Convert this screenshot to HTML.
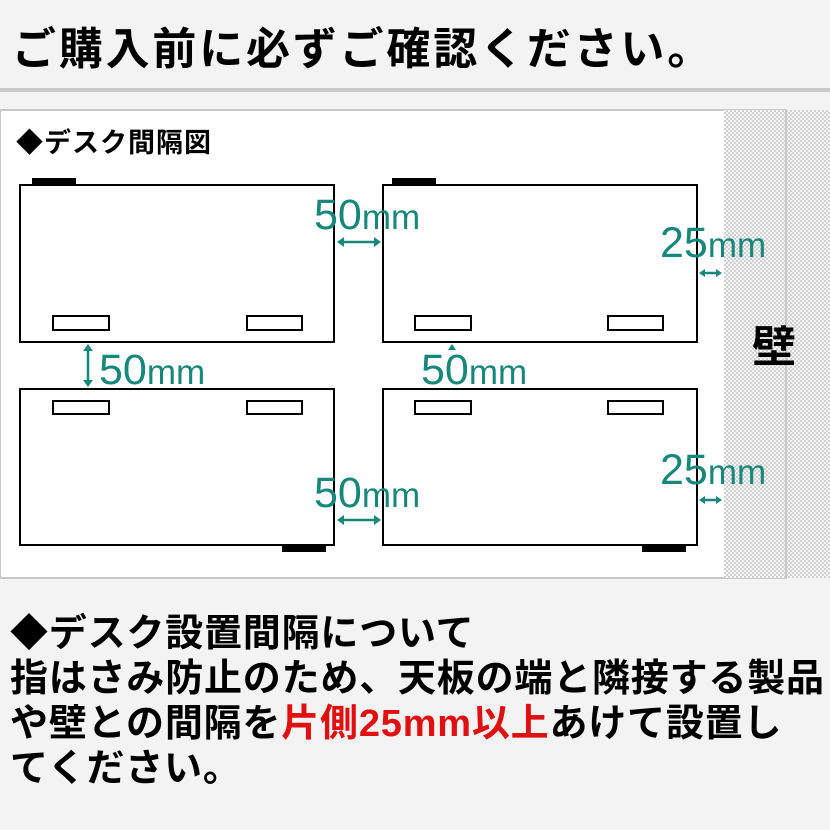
<!DOCTYPE html>
<html><head><meta charset="utf-8"><style>
html,body{margin:0;padding:0;background:#f3f3f3;}
body{width:830px;height:830px;overflow:hidden;position:relative;font-family:"Liberation Sans","Noto Sans CJK JP",sans-serif;}
.t{position:absolute;font-weight:bold;color:#000;white-space:nowrap;}
</style></head><body>
<div class="t" style="left:12px;top:22px;font-size:44px;line-height:56px;letter-spacing:2.8px;">ご購入前に必ずご確認ください。</div>
<div style="position:absolute;left:0;top:88px;width:830px;height:4px;background:#c8c8c8"></div>
<svg style="position:absolute;left:0;top:0" width="830" height="830">
<defs><pattern id="h" width="4" height="4" patternUnits="userSpaceOnUse"><rect width="4" height="4" fill="#f6f6f6"/><rect width="2" height="2" fill="#d0d0d0"/><rect x="2" y="2" width="2" height="2" fill="#d0d0d0"/></pattern></defs>
<rect x="0" y="110" width="786" height="468" fill="#fff" stroke="#c8c8c8" stroke-width="2"/>
<rect x="724" y="110" width="106" height="468" fill="url(#h)"/>
<line x1="786" y1="110" x2="786" y2="578" stroke="#c8c8c8" stroke-width="2"/>
<g fill="none" stroke="#000" stroke-width="2">
<rect x="20" y="185" width="314" height="157"/>
<rect x="383" y="185" width="314" height="157"/>
<rect x="20" y="389" width="314" height="156"/>
<rect x="383" y="389" width="314" height="156"/>
<rect x="53" y="316" width="56" height="14"/><rect x="247" y="316" width="55" height="14"/>
<rect x="415" y="316" width="56" height="14"/><rect x="608" y="316" width="55" height="14"/>
<rect x="53" y="401" width="56" height="13"/><rect x="247" y="401" width="55" height="13"/>
<rect x="415" y="401" width="56" height="13"/><rect x="608" y="401" width="55" height="13"/>
</g>
<g fill="#000">
<rect x="32" y="178" width="44" height="7"/><rect x="392" y="178" width="44" height="7"/>
<rect x="282" y="545" width="44" height="7"/><rect x="642" y="545" width="44" height="7"/>
</g>
<g stroke="#17877a" stroke-width="2.5" fill="#17877a">
<line x1="340" y1="242" x2="378" y2="242"/><path d="M337 242l7-5v10z M381 242l-7-5v10z" stroke="none"/>
<line x1="340" y1="520" x2="378" y2="520"/><path d="M337 520l7-5v10z M381 520l-7-5v10z" stroke="none"/>
<line x1="701" y1="273" x2="720" y2="273"/><path d="M699 273l6-4v8z M722 273l-6-4v8z" stroke="none"/>
<line x1="701" y1="500" x2="720" y2="500"/><path d="M699 500l6-4v8z M722 500l-6-4v8z" stroke="none"/>
<line x1="88" y1="347" x2="88" y2="384"/><path d="M88 344l-5 7h10z M88 387l-5-7h10z" stroke="none"/>
<path d="M452 344l-4 6h8z" stroke="none"/>
</g>
<g font-family="Liberation Sans, sans-serif" fill="#17877a">
<text x="314" y="229" font-size="43">50<tspan font-size="35">mm</tspan></text>
<text x="660" y="257" font-size="43">25<tspan font-size="35">mm</tspan></text>
<text x="99" y="384" font-size="43">50<tspan font-size="35">mm</tspan></text>
<text x="421" y="384" font-size="43">50<tspan font-size="35">mm</tspan></text>
<text x="314" y="507" font-size="43">50<tspan font-size="35">mm</tspan></text>
<text x="660" y="484" font-size="43">25<tspan font-size="35">mm</tspan></text>
</g>
<text x="752" y="362" font-size="44" font-weight="bold" font-family="Liberation Sans, Noto Sans CJK JP, sans-serif">壁</text>
<text x="16" y="152" font-size="27" font-weight="bold" letter-spacing="1" font-family="Liberation Sans, Noto Sans CJK JP, sans-serif">◆デスク間隔図</text>
</svg>
<div class="t" style="left:10px;top:612px;font-size:38px;line-height:45px;letter-spacing:0.8px;">◆デスク設置間隔について<br>指はさみ防止のため、天板の端と隣接する製品<br>や壁との間隔を<span style="color:#e01010">片側25mm以上</span>あけて設置し<br>てください。</div>
</body></html>
